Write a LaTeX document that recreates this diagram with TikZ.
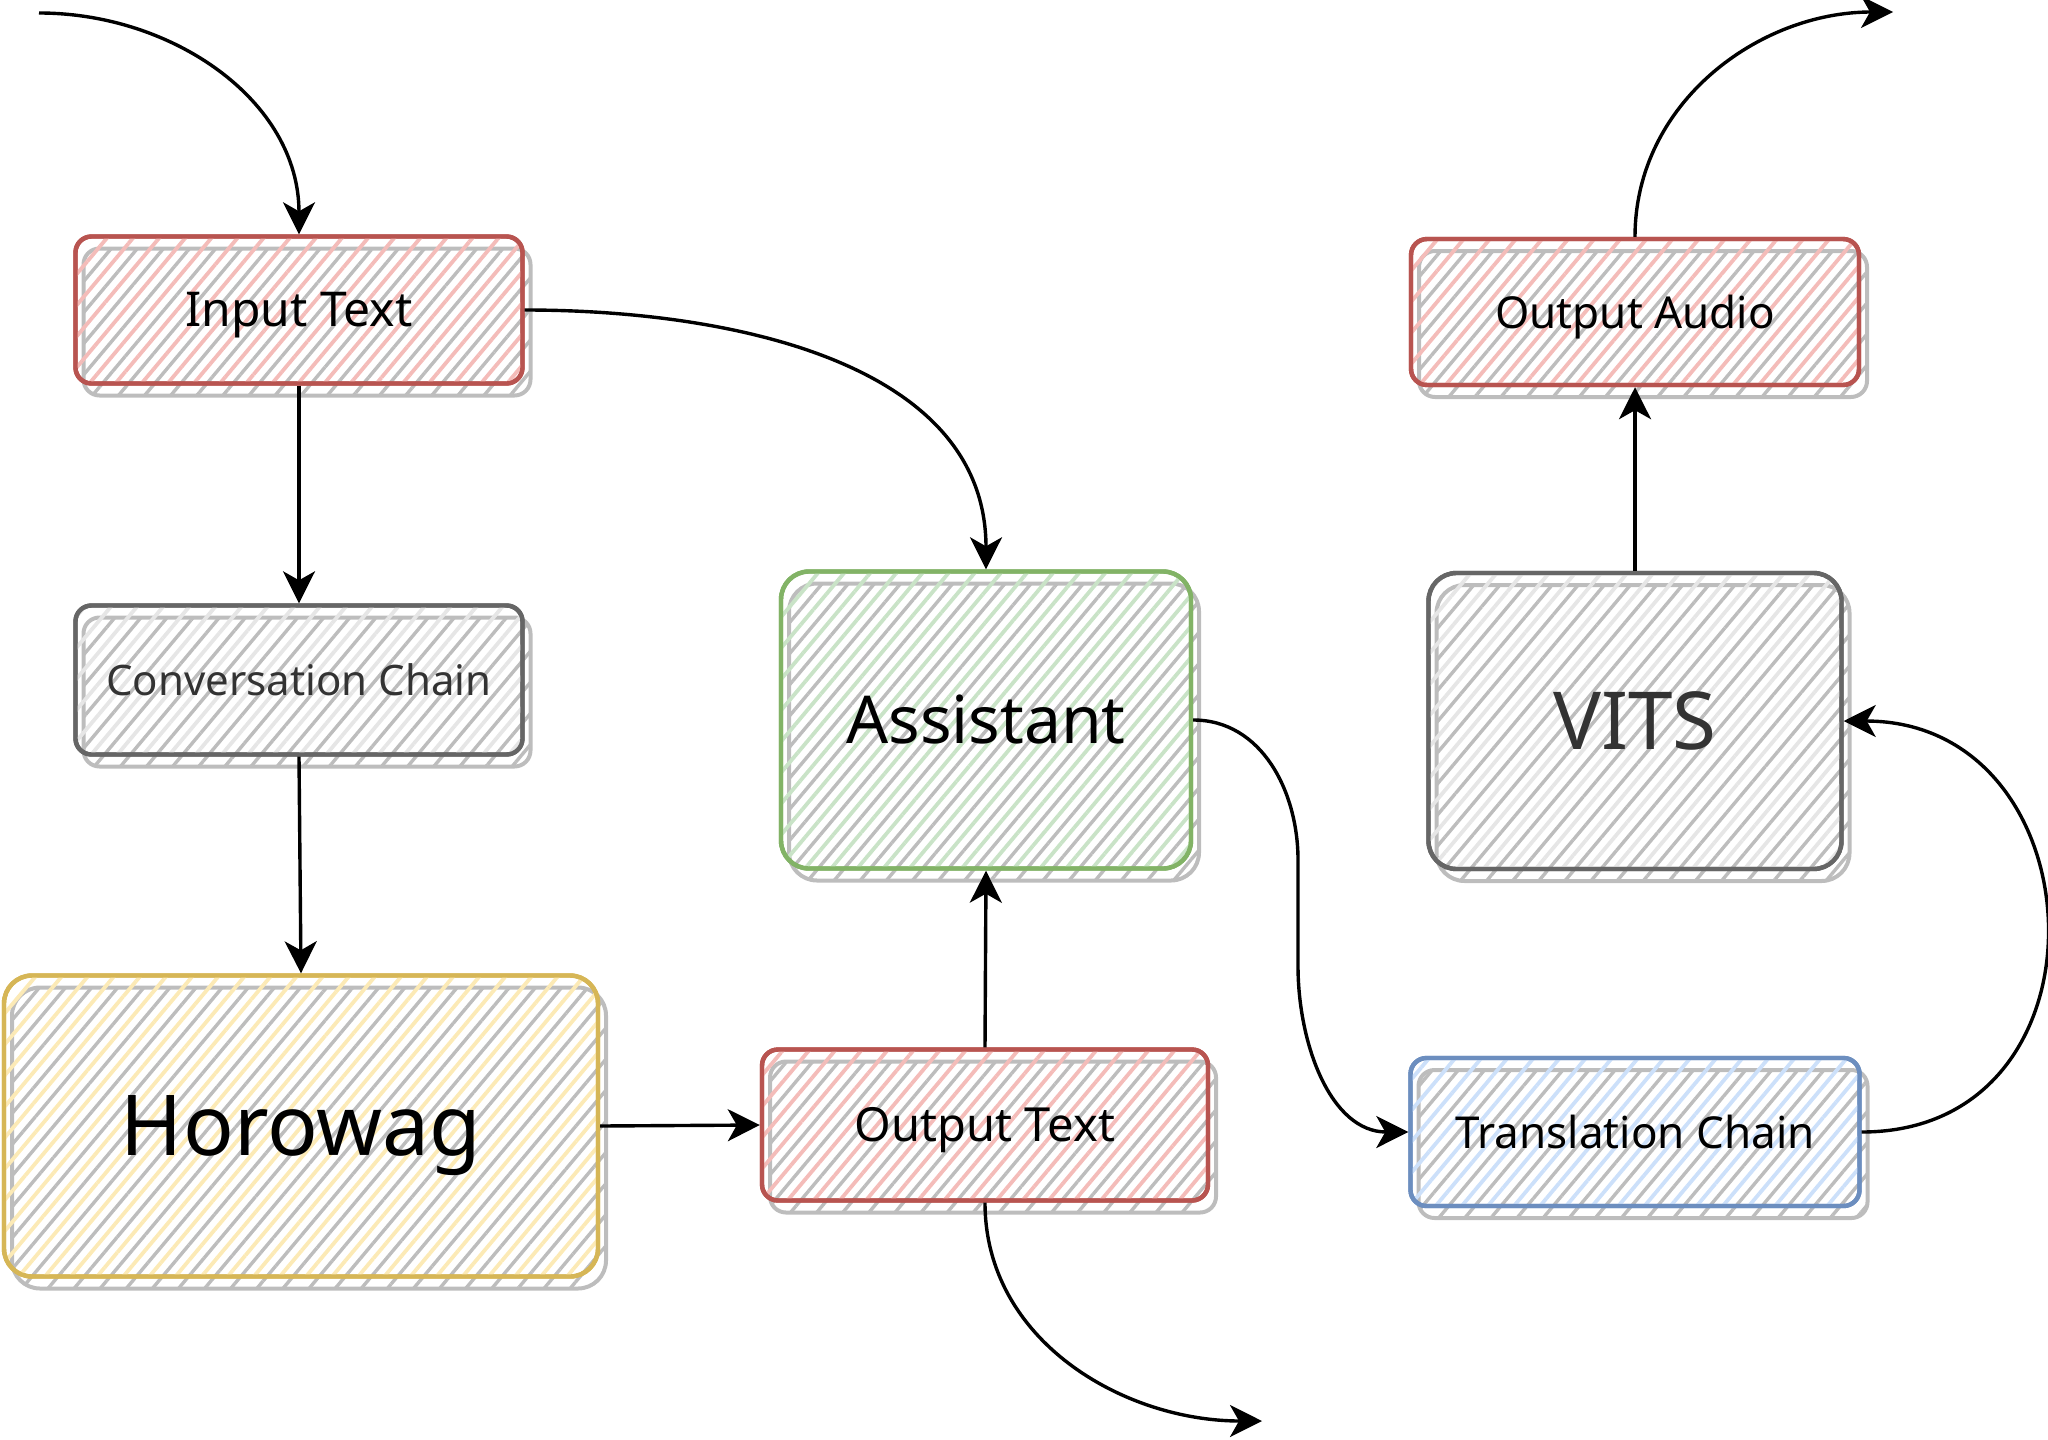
\documentclass[tikz,border=0pt]{standalone}
\usepackage{fontspec}
\setmainfont{Noto Sans}
\usetikzlibrary{patterns.meta,shadows,arrows.meta}
\definecolor{rstroke}{HTML}{B85450}
\definecolor{rfill}{HTML}{F4BCB9}
\definecolor{gstroke}{HTML}{666666}
\definecolor{gfill}{HTML}{E6E6E6}
\definecolor{ystroke}{HTML}{D6B656}
\definecolor{yfill}{HTML}{FCEAB6}
\definecolor{grstroke}{HTML}{82B366}
\definecolor{grfill}{HTML}{C9E3C7}
\definecolor{bstroke}{HTML}{6C8EBF}
\definecolor{bfill}{HTML}{CCE0FA}
\definecolor{shcol}{HTML}{BDBDBD}
\definecolor{txtgray}{HTML}{333333}
\tikzset{
  box/.style n args={3}{rounded corners=#3, line width=2.2pt, draw=#1,
    general shadow={shadow xshift=4pt, shadow yshift=-6pt, draw=shcol, line width=2pt,
      pattern={Lines[angle=50,distance=10pt,line width=1.7pt]}, pattern color=shcol},
    postaction={pattern={Lines[angle=50,distance=10pt,line width=1.9pt,xshift=6.5pt]}, pattern color=#2},
    postaction={draw=#1, line width=2.2pt},
    inner sep=0pt, text depth=0.1ex},
  redbox/.style={box={rstroke}{rfill}{8pt}},
  graybox/.style={box={gstroke}{gfill}{#1}, text=txtgray},
  yellowbox/.style={box={ystroke}{yfill}{14pt}},
  greenbox/.style={box={grstroke}{grfill}{14pt}},
  bluebox/.style={box={bstroke}{bfill}{8pt}},
  conn/.style={line width=1.7pt, -{Stealth[length=16pt,width=16pt,inset=4.5pt]}},
}
\begin{document}
\begin{tikzpicture}[x=0.5pt,y=-0.5pt]
\useasboundingbox (0,0) rectangle (2048,1439);
\node[redbox, minimum width=223.5pt, minimum height=73.5pt, font=\fontsize{24}{28}\selectfont] (in) at (299,310) {Input Text};
\node[graybox=8pt, minimum width=223.5pt, minimum height=74.5pt, font=\fontsize{21}{25}\selectfont] (conv) at (299,680) {Conversation Chain};
\node[yellowbox, minimum width=297pt, minimum height=150.5pt, font=\fontsize{42}{48}\selectfont] (horo) at (301,1126) {Horowag};
\node[redbox, minimum width=223pt, minimum height=75.5pt, font=\fontsize{23.5}{27}\selectfont] (outt) at (985,1125) {Output Text};
\node[greenbox, minimum width=205pt, minimum height=148.5pt, font=\fontsize{33}{38}\selectfont] (asst) at (986,720) {Assistant};
\node[redbox, minimum width=224pt, minimum height=73pt, font=\fontsize{22}{26}\selectfont] (outa) at (1635,312) {Output Audio};
\node[graybox=14pt, minimum width=206.5pt, minimum height=148pt, font=\fontsize{40}{46}\selectfont] (vits) at (1635,721) {VITS};
\node[bluebox, minimum width=224.5pt, minimum height=74pt, font=\fontsize{22}{26}\selectfont] (trans) at (1635,1132) {Translation Chain};

\coordinate (s1) at (39,13);
\coordinate (e1) at (1893,12);
\coordinate (e2) at (1262,1421);
\coordinate (m1) at (1298,860);
\coordinate (m2) at (1298,966);

\draw[conn] (s1) to[out=0,in=90] (in.north);
\draw[conn] (in.south) -- (conv.north);
\draw[conn] (conv.south) -- (horo.north);
\draw[conn] (horo.east) -- (outt.west);
\draw[conn] (outt.north) -- (asst.south);
\draw[conn] (in.east) to[out=0,in=90] (asst.north);
\draw[conn] (asst.east) to[out=0,in=90] (m1) -- (m2) to[out=270,in=180] (trans.west);
\draw[conn] (trans.east) to[out=0,in=0,looseness=1.6] (vits.east);
\draw[conn] (vits.north) -- (outa.south);
\draw[conn] (outa.north) to[out=90,in=180] (e1);
\draw[conn] (outt.south) to[out=270,in=180] (e2);
\end{tikzpicture}
\end{document}
